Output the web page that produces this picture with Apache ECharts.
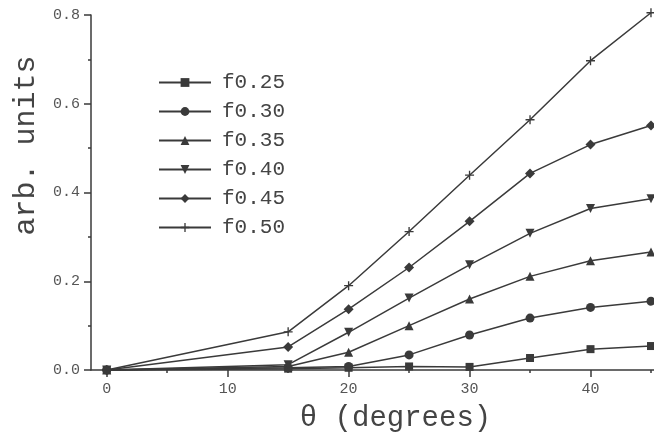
<!DOCTYPE html>
<html>
<head>
<meta charset="utf-8">
<script src="https://cdn.jsdelivr.net/npm/echarts@6/dist/echarts.min.js"></script>
<style>
  html, body { margin: 0; padding: 0; background: #fff; }
  #chart { width: 654px; height: 438px; }
</style>
</head>
<body>
<div id="chart"></div>
<script>
var angles = [0, 15, 20, 25, 30, 35, 40, 45];
var names = ['f0.25', 'f0.30', 'f0.35', 'f0.40', 'f0.45', 'f0.50'];
var f025 = [0, 0.003, 0.005, 0.008, 0.007, 0.027, 0.047, 0.054];
var f030 = [0, 0.005, 0.008, 0.034, 0.079, 0.117, 0.141, 0.155];
var f035 = [0, 0.008, 0.040, 0.100, 0.160, 0.211, 0.246, 0.266];
var f040 = [0, 0.012, 0.085, 0.162, 0.237, 0.308, 0.364, 0.386];
var f045 = [0, 0.052, 0.137, 0.231, 0.335, 0.443, 0.508, 0.551];
var f050 = [0, 0.086, 0.190, 0.312, 0.439, 0.564, 0.697, 0.805];
var xMajor = [0, 10, 20, 30, 40];
var xMinor = [5, 15, 25, 35, 45];

window.addEventListener('load', function () {
    var chart = echarts.init(document.getElementById('chart'));
    var ink = '#3a3a3a';
    var mono = '"Liberation Mono", "DejaVu Sans Mono", monospace';
    var plus = 'path://M3.4,0H4.6V3.4H8V4.6H4.6V8H3.4V4.6H0V3.4H3.4Z';

    var values = [f025, f030, f035, f040, f045, f050];
    var symbols = ['rect', 'circle', 'triangle', 'triangle', 'diamond', plus];
    var rotates = [0, 0, 0, 180, 0, 0];
    var sizes = [8, 9, 9, 9, 10, 9];

    var series = values.map(function (v, i) {
        return {
            name: names[i],
            type: 'line',
            clip: false,
            data: angles.map(function (a, j) { return [a, v[j]]; }),
            symbol: symbols[i],
            symbolRotate: rotates[i],
            symbolSize: sizes[i],
            lineStyle: { color: ink, width: 1.5 },
            itemStyle: { color: ink },
            emphasis: { disabled: true }
        };
    });

    chart.setOption({
        animation: false,
        grid: { left: 91, right: 0, top: 15, bottom: 66 },
        legend: {
            orient: 'vertical',
            left: 153,
            top: 67,
            itemWidth: 52,
            itemHeight: 11,
            itemGap: 8,
            textStyle: { fontFamily: mono, fontSize: 21, color: '#444', padding: [0, 0, 0, 6] },
            data: names
        },
        xAxis: [{
            type: 'value',
            min: -1.3,
            max: 45.25,
            name: 'θ (degrees)',
            nameLocation: 'middle',
            nameGap: 34,
            nameTextStyle: { fontFamily: mono, fontSize: 29, color: '#444', padding: [0, 0, 0, 46] },
            splitLine: { show: false },
            axisLine: { onZero: false, lineStyle: { color: ink, width: 1.5 } },
            axisTick: { customValues: xMajor, length: 7, lineStyle: { color: ink, width: 1.5 } },
            axisLabel: { customValues: xMajor, margin: 12, fontFamily: mono, fontSize: 15, color: '#555' }
        }, {
            type: 'value',
            min: -1.3,
            max: 45.25,
            position: 'bottom',
            splitLine: { show: false },
            axisLine: { show: false, onZero: false },
            axisTick: { customValues: xMinor, length: 3, lineStyle: { color: ink, width: 1.5 } },
            axisLabel: { show: false }
        }],
        yAxis: {
            type: 'value',
            min: 0,
            max: 0.8,
            interval: 0.2,
            name: 'arb. units',
            nameLocation: 'middle',
            nameGap: 50,
            nameTextStyle: { fontFamily: mono, fontSize: 30, color: '#444', padding: [0, 0, 0, 94] },
            splitLine: { show: false },
            axisLine: { show: true, onZero: false, lineStyle: { color: ink, width: 1.5 } },
            axisTick: { show: true, length: 7, lineStyle: { color: ink, width: 1.5 } },
            minorTick: { show: true, splitNumber: 2, length: 3, lineStyle: { color: ink, width: 1.5 } },
            axisLabel: {
                margin: 11, fontFamily: mono, fontSize: 15, color: '#555',
                formatter: function (v) { return v.toFixed(1); }
            }
        },
        series: series
    });
}, false);
</script>
</body>
</html>
